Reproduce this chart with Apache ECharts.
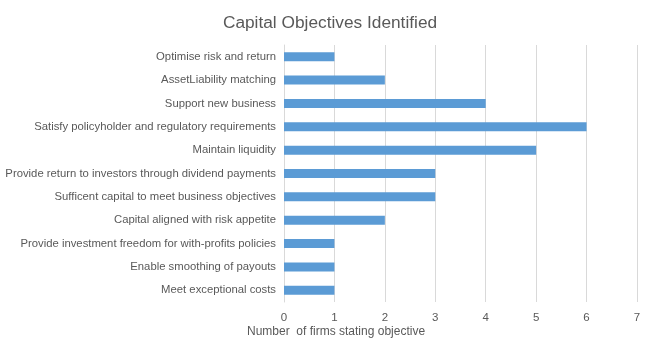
<!DOCTYPE html>
<html>
<head>
<meta charset="utf-8">
<script src="https://cdn.jsdelivr.net/npm/echarts@6/dist/echarts.min.js"></script>
<style>
html,body{margin:0;padding:0;background:#fff;}
#c{width:648px;height:356px;}
</style>
</head>
<body>
<div id="c"></div>
<script>
const categories = [
  "Optimise risk and return",
  "AssetLiability matching",
  "Support new business",
  "Satisfy policyholder and regulatory requirements",
  "Maintain liquidity",
  "Provide return to investors through dividend payments",
  "Sufficent capital to meet business objectives",
  "Capital aligned with risk appetite",
  "Provide investment freedom for with-profits policies",
  "Enable smoothing of payouts",
  "Meet exceptional costs"
];
const firmCounts = [1, 2, 4, 6, 5, 3, 3, 2, 1, 1, 1];
const xTicks = [0, 1, 2, 3, 4, 5, 6, 7];

const FONT = "'Liberation Sans', Arial, sans-serif";
const chart = echarts.init(document.getElementById('c'), null, {renderer: 'canvas'});
chart.setOption({
  animation: false,
  backgroundColor: '#ffffff',
  title: {
    text: 'Capital Objectives Identified',
    left: 325, top: 10, textAlign: 'center',
    textStyle: {fontFamily: FONT, fontSize: 17.3, fontWeight: 'normal', color: '#595959'}
  },
  grid: {left: 284, right: 11, top: 45, height: 257, containLabel: false, outerBoundsMode: 'none'},
  xAxis: {
    type: 'value',
    min: xTicks[0], max: xTicks[xTicks.length - 1], interval: 1,
    axisLine: {show: false}, axisTick: {show: false},
    splitLine: {show: true, lineStyle: {color: '#d9d9d9', width: 1}},
    axisLabel: {color: '#595959', fontFamily: FONT, fontSize: 11.5, margin: 10}
  },
  yAxis: {
    type: 'category', inverse: true, data: categories,
    axisLine: {show: true, lineStyle: {color: '#d9d9d9'}}, axisTick: {show: false},
    axisLabel: {color: '#595959', fontFamily: FONT, fontSize: 11.3, margin: 8}
  },
  graphic: [{
    type: 'text', left: 247, top: 326,
    style: {text: 'Number  of firms stating objective', fill: '#595959', font: '12px ' + FONT}
  }],
  series: [{
    type: 'bar', data: firmCounts, barWidth: 9,
    itemStyle: {color: '#5b9bd5'}
  }]
});
</script>
</body>
</html>
